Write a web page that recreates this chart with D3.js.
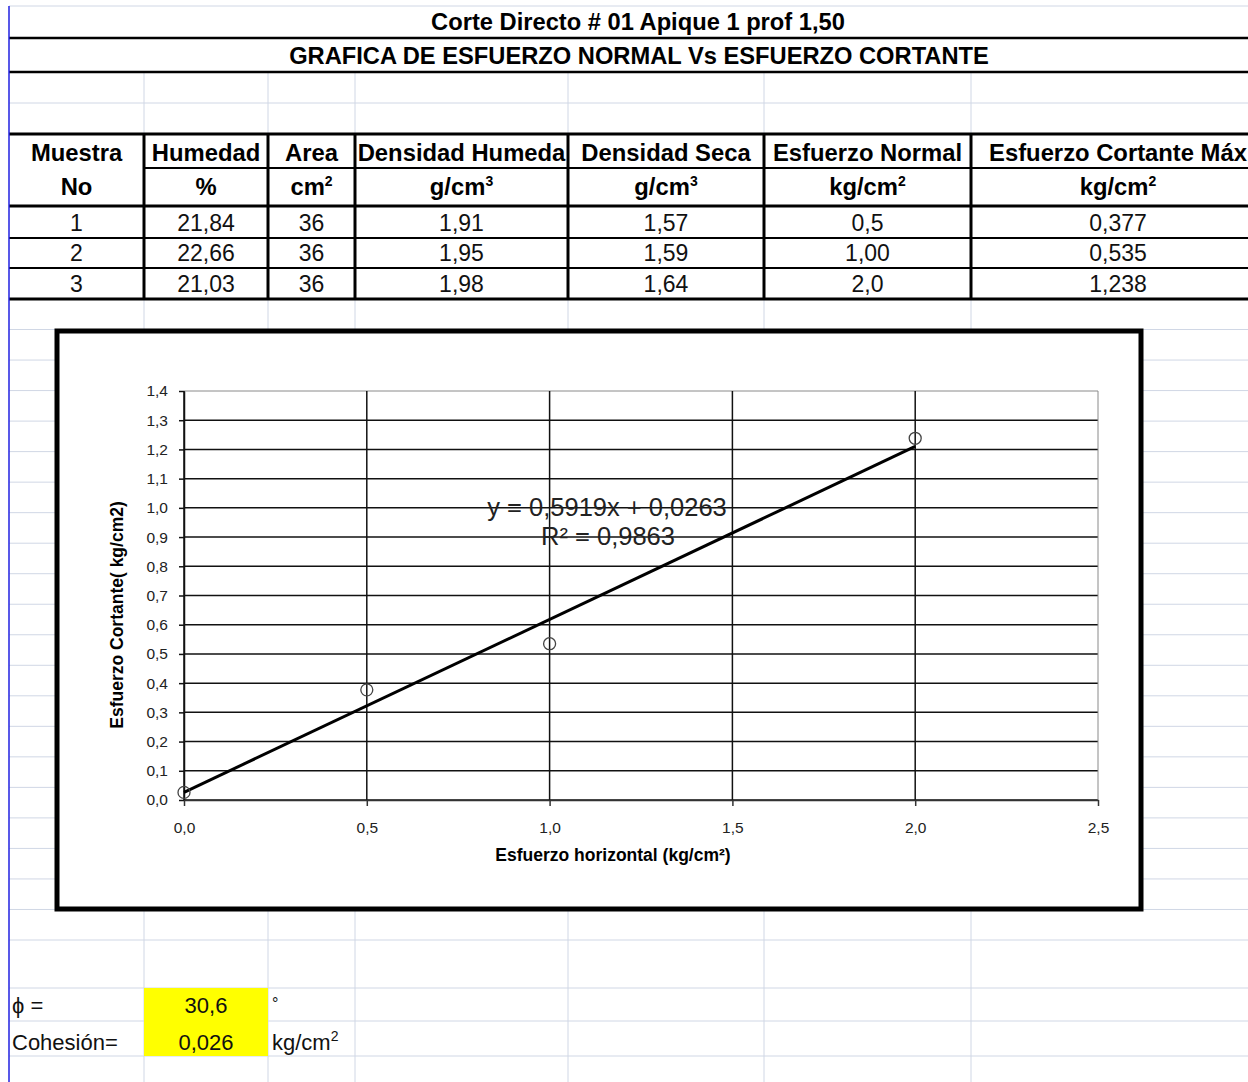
<!DOCTYPE html>
<html>
<head>
<meta charset="utf-8">
<script src="https://cdn.jsdelivr.net/npm/d3@7"></script>
<style>
  body { margin: 0; background: #fff; }
  svg { display: block; font-family: "Liberation Sans", Arial, sans-serif; }
</style>
</head>
<body>
<script>
// Datos de la tabla
const muestras = [1, 2, 3];
const humedad = [21.84, 22.66, 21.03];
const area = [36, 36, 36];
const densidadHumeda = [1.91, 1.95, 1.98];
const densidadSeca = [1.57, 1.59, 1.64];
const esfuerzoNormal = [0.5, 1.00, 2.0];
const decimalesNormal = [1, 2, 1];
const esfuerzoCortante = [0.377, 0.535, 1.238];

// Encabezados y unidades (base, superindice)
const encabezados = ["Muestra", "Humedad", "Area", "Densidad Humeda", "Densidad Seca", "Esfuerzo Normal", "Esfuerzo Cortante Máx"];
const unidades = [["No", ""], ["%", ""], ["cm", "2"], ["g/cm", "3"], ["g/cm", "3"], ["kg/cm", "2"], ["kg/cm", "2"]];

// Recta de ajuste y resultados
const pendiente = 0.5919, intercepto = 0.0263, r2 = 0.9863;
const phi = 30.6, cohesion = 0.026;

// Ticks
const ticksX = [0, 0.5, 1.0, 1.5, 2.0, 2.5];
const ticksY = [0, 0.1, 0.2, 0.3, 0.4, 0.5, 0.6, 0.7, 0.8, 0.9, 1.0, 1.1, 1.2, 1.3, 1.4];

const titulo = "Corte Directo # 01 Apique 1 prof 1,50";
const subtitulo = "GRAFICA DE ESFUERZO NORMAL Vs ESFUERZO CORTANTE";

// formato con coma decimal
const loc = d3.formatLocale({decimal: ",", thousands: ".", grouping: [3], currency: ["$", ""]});
const f = (d, n) => loc.format("." + n + "f")(d);

const [W, H] = [1248, 1082];
const svg = d3.select("body").append("svg").attr("width", W).attr("height", H);

// Columnas y filas de la hoja
const colX = [9, 144, 268, 355, 568, 764, 971, 1265];
let filas = [6, 38, 72, 103, 134, 168, 206, 238, 268, 299];
for (let i = 1; i <= 21; i++) filas.push(299 + i * (940 - 299) / 21);
filas = filas.concat([988, 1021, 1056, 1090]);

const gris = "#d0d7e5";
const grid = svg.append("g");
filas.forEach(yy => grid.append("line").attr("x1", 9).attr("x2", W).attr("y1", yy).attr("y2", yy)
    .attr("stroke", gris).attr("stroke-width", 1));
colX.slice(1).forEach(xx => grid.append("line").attr("x1", xx).attr("x2", xx).attr("y1", 72).attr("y2", H)
    .attr("stroke", gris).attr("stroke-width", 1));

// Celdas amarillas
svg.append("rect").attr("x", 144).attr("y", 988).attr("width", 124).attr("height", 68).attr("fill", "#ffff00");

// Titulos
svg.append("rect").attr("x", 9).attr("y", 7).attr("width", W).attr("height", 64).attr("fill", "#fff");
svg.append("text").attr("x", 638).attr("y", 30).attr("text-anchor", "middle")
    .attr("font-size", 23.7).attr("font-weight", "bold").text(titulo);
svg.append("text").attr("x", 639).attr("y", 64).attr("text-anchor", "middle")
    .attr("font-size", 23.7).attr("font-weight", "bold").text(subtitulo);
[38, 72].forEach(yy => svg.append("line").attr("x1", 9).attr("x2", W).attr("y1", yy).attr("y2", yy)
    .attr("stroke", "#000").attr("stroke-width", 2.5));

// Tabla
const tabla = svg.append("g");
tabla.append("rect").attr("x", 9).attr("y", 134).attr("width", W).attr("height", 165).attr("fill", "#fff");
const centros = colX.slice(0, -1).map((c, i) => (c + colX[i + 1]) / 2);

encabezados.forEach((t, i) => {
    tabla.append("text").attr("x", centros[i]).attr("y", 161).attr("text-anchor", "middle")
        .attr("font-size", 23.8).attr("font-weight", "bold").text(t);
    const u = tabla.append("text").attr("x", centros[i]).attr("y", 195).attr("text-anchor", "middle")
        .attr("font-size", 23.8).attr("font-weight", "bold");
    u.append("tspan").text(unidades[i][0]);
    if (unidades[i][1]) u.append("tspan").attr("dy", -9).attr("font-size", 14).text(unidades[i][1]);
});

const filasDatos = muestras.map((m, i) => [
    String(m), f(humedad[i], 2), String(area[i]), f(densidadHumeda[i], 2), f(densidadSeca[i], 2),
    f(esfuerzoNormal[i], decimalesNormal[i]), f(esfuerzoCortante[i], 3)
]);
const yFilas = [238, 268, 299];
filasDatos.forEach((fila, r) => {
    fila.forEach((t, i) => {
        tabla.append("text").attr("x", centros[i]).attr("y", yFilas[r] - 7).attr("text-anchor", "middle")
            .attr("font-size", 23).attr("fill", "#111").text(t);
    });
});

// bordes de la tabla
[[134, 3], [206, 3], [299, 3], [238, 2], [268, 2]].forEach(([yy, sw]) =>
    tabla.append("line").attr("x1", 9).attr("x2", W).attr("y1", yy).attr("y2", yy).attr("stroke", "#000").attr("stroke-width", sw));
tabla.append("line").attr("x1", 144).attr("x2", W).attr("y1", 168).attr("y2", 168).attr("stroke", "#000").attr("stroke-width", 2);
colX.slice(1, -1).forEach(xx => tabla.append("line").attr("x1", xx).attr("x2", xx).attr("y1", 134).attr("y2", 299)
    .attr("stroke", "#000").attr("stroke-width", 3));

// Linea azul de la hoja
svg.append("line").attr("x1", 9).attr("x2", 9).attr("y1", 6).attr("y2", H).attr("stroke", "#2020e0").attr("stroke-width", 1.5);

// Grafico
svg.append("rect").attr("x", 57).attr("y", 331).attr("width", 1084).attr("height", 578)
    .attr("fill", "#fff").attr("stroke", "#000").attr("stroke-width", 5);

const xScale = d3.scaleLinear().domain([0, 2.5]).range([184, 1098]);
const yScale = d3.scaleLinear().domain([0, 1.4]).range([800, 391]);

const g = svg.append("g");
// lineas de division
ticksY.forEach(t => g.append("line").attr("x1", xScale(0)).attr("x2", xScale(2.5))
    .attr("y1", yScale(t)).attr("y2", yScale(t))
    .attr("stroke", t === 1.4 ? "#8a8a8a" : "#111").attr("stroke-width", t === 1.4 ? 1 : 1.5));
ticksX.forEach(t => g.append("line").attr("x1", xScale(t)).attr("x2", xScale(t))
    .attr("y1", yScale(0)).attr("y2", yScale(1.4))
    .attr("stroke", t === 2.5 ? "#8a8a8a" : "#111").attr("stroke-width", t === 2.5 ? 1 : 1.5));

// Ejes
const yAxis = d3.axisLeft(yScale).tickValues(ticksY).tickSize(5).tickSizeOuter(0).tickPadding(11)
    .tickFormat(d => f(d, 1));
g.append("g").attr("transform", "translate(" + xScale(0) + ",0)").call(yAxis)
    .call(a => a.selectAll("text").attr("font-size", 15.5).attr("fill", "#222").attr("font-family", null))
    .call(a => a.selectAll("line,path").attr("stroke", "#111").attr("stroke-width", 1.5));

const xAxis = d3.axisBottom(xScale).tickValues(ticksX).tickSize(6).tickSizeOuter(0).tickPadding(16)
    .tickFormat(d => f(d, 1));
g.append("g").attr("transform", "translate(0," + yScale(0) + ")").call(xAxis)
    .call(a => a.selectAll("text").attr("font-size", 15.5).attr("fill", "#222").attr("font-family", null))
    .call(a => a.selectAll("line,path").attr("stroke", "#333").attr("stroke-width", 1.5));

// Titulos de los ejes
g.append("text").attr("x", 613).attr("y", 861).attr("text-anchor", "middle")
    .attr("font-size", 17.5).attr("font-weight", "bold").text("Esfuerzo horizontal  (kg/cm²)");
g.append("text").attr("transform", "translate(123,615) rotate(-90)").attr("text-anchor", "middle")
    .attr("font-size", 17.5).attr("font-weight", "bold").text("Esfuerzo Cortante( kg/cm2)");

// Recta de tendencia
const xsLinea = [0, d3.max(esfuerzoNormal)];
const linea = d3.line().x(d => xScale(d)).y(d => yScale(pendiente * d + intercepto));
g.append("path").datum(xsLinea).attr("d", linea).attr("fill", "none").attr("stroke", "#000").attr("stroke-width", 3);

// Puntos
const puntosX = [0].concat(esfuerzoNormal);
const puntosY = [cohesion].concat(esfuerzoCortante);
g.selectAll("circle.punto").data(puntosX).enter().append("circle").attr("class", "punto")
    .attr("cx", d => xScale(d)).attr("cy", (d, i) => yScale(puntosY[i])).attr("r", 6)
    .attr("fill", "none").attr("stroke", "#444").attr("stroke-width", 1.3);

// Ecuacion
g.append("text").attr("x", 607).attr("y", 516).attr("text-anchor", "middle").attr("font-size", 25.5).attr("fill", "#222")
    .text("y = " + f(pendiente, 4) + "x + " + f(intercepto, 4));
g.append("text").attr("x", 608).attr("y", 545).attr("text-anchor", "middle").attr("font-size", 25.5).attr("fill", "#222")
    .text("R² = " + f(r2, 4));

// Resultados
const res = svg.append("g").attr("font-size", 22).attr("fill", "#111");
res.append("text").attr("x", 12).attr("y", 1013).text("ϕ =");
res.append("text").attr("x", 206).attr("y", 1013).attr("text-anchor", "middle").text(f(phi, 1));
res.append("text").attr("x", 272).attr("y", 1009).attr("font-size", 16).text("°");
res.append("text").attr("x", 12).attr("y", 1050).text("Cohesión=");
res.append("text").attr("x", 206).attr("y", 1050).attr("text-anchor", "middle").text(f(cohesion, 3));
const kg = res.append("text").attr("x", 272).attr("y", 1050);
kg.append("tspan").text("kg/cm");
kg.append("tspan").attr("dy", -9).attr("font-size", 14).text("2");
</script>
</body>
</html>
